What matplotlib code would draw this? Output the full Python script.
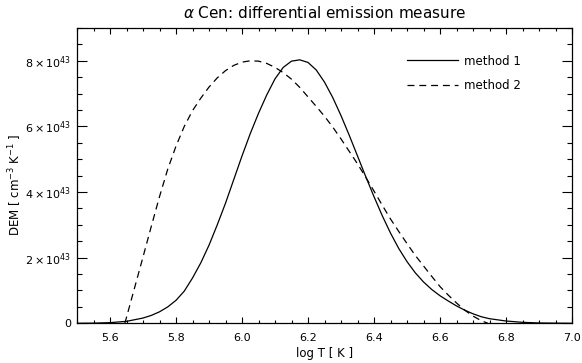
import matplotlib
matplotlib.use('Agg')
import matplotlib.pyplot as plt
from matplotlib.ticker import MultipleLocator, FuncFormatter

# method 1 (solid), DEM in units of 1e43
logt1 = [5.50, 5.55, 5.60, 5.65, 5.70, 5.725, 5.75, 5.775, 5.80, 5.825, 5.85, 5.875,
         5.90, 5.925, 5.95, 5.975, 6.00, 6.025, 6.05, 6.075, 6.10, 6.125, 6.15,
         6.175, 6.20, 6.225, 6.25, 6.275, 6.30, 6.325, 6.35, 6.375, 6.40, 6.425,
         6.45, 6.475, 6.50, 6.525, 6.55, 6.575, 6.60, 6.625, 6.65, 6.675, 6.70,
         6.725, 6.75, 6.80, 6.85, 6.90, 7.00]
dem1 = [0.0, 0.005, 0.02, 0.06, 0.16, 0.24, 0.35, 0.50, 0.70, 0.98, 1.38, 1.84,
        2.38, 3.00, 3.66, 4.38, 5.10, 5.78, 6.40, 6.96, 7.45, 7.80, 7.99,
        8.03, 7.95, 7.72, 7.35, 6.88, 6.33, 5.73, 5.10, 4.47, 3.86, 3.28,
        2.75, 2.28, 1.88, 1.54, 1.26, 1.03, 0.84, 0.68, 0.53, 0.40, 0.29,
        0.20, 0.14, 0.07, 0.03, 0.01, 0.0]

# method 2 (dashed)
logt2 = [5.645, 5.675, 5.70, 5.725, 5.75, 5.775, 5.80, 5.825, 5.85, 5.875, 5.90,
         5.925, 5.95, 5.975, 6.00, 6.025, 6.05, 6.075, 6.10, 6.125, 6.15, 6.175,
         6.20, 6.225, 6.25, 6.275, 6.30, 6.325, 6.35, 6.375, 6.40, 6.425, 6.45,
         6.475, 6.50, 6.525, 6.55, 6.575, 6.60, 6.625, 6.65, 6.675, 6.70, 6.725,
         6.745]
dem2 = [0.0, 1.10, 2.02, 2.95, 3.86, 4.70, 5.40, 6.0, 6.48, 6.86, 7.20,
        7.48, 7.70, 7.86, 7.96, 8.0, 7.99, 7.92, 7.80, 7.64, 7.44, 7.19,
        6.90, 6.61, 6.31, 5.98, 5.62, 5.24, 4.86, 4.45, 4.03, 3.60, 3.18,
        2.80, 2.43, 2.07, 1.75, 1.43, 1.12, 0.86, 0.62, 0.40, 0.22, 0.08,
        0.0]

ytick_vals = [0, 2, 4, 6, 8]

plt.rcParams['font.family'] = ['DejaVu Sans']
plt.rcParams['mathtext.fontset'] = 'dejavusans'
plt.rcParams['lines.scale_dashes'] = False

fig = plt.figure(figsize=(5.82, 3.63), dpi=100)
ax = fig.add_axes([77/582, 1 - 323.3/363, 495/582, 295.3/363])

ax.plot(logt1, dem1, color='black', lw=0.9, label='method 1')
ax.plot(logt2, dem2, color='black', lw=0.9, dashes=(5, 3.5), label='method 2')

ax.set_xlim(5.5, 7.0)
ax.set_ylim(0, 9.0)

ax.xaxis.set_major_locator(MultipleLocator(0.2))
ax.xaxis.set_minor_locator(MultipleLocator(0.05))
ax.set_yticks(ytick_vals)
ax.yaxis.set_minor_locator(MultipleLocator(0.5))
ax.xaxis.set_major_formatter(FuncFormatter(lambda v, p: '%.1f' % v))
ax.yaxis.set_major_formatter(FuncFormatter(
    lambda v, p: '0' if abs(v) < 1e-9 else r'$%d\times10^{43}$' % round(v)))

ax.tick_params(which='both', direction='in', top=True, right=True,
               width=0.8, labelsize=8)
ax.tick_params(axis='x', which='major', length=4.3, pad=7)
ax.tick_params(axis='x', which='minor', length=2.2)
ax.tick_params(axis='y', which='major', length=7.2, pad=4)
ax.tick_params(axis='y', which='minor', length=3.6)
for s in ax.spines.values():
    s.set_linewidth(0.9)

ax.set_title(r'$\alpha$ Cen: differential emission measure', fontsize=11, pad=7)
ax.set_xlabel('log T [ K ]', fontsize=8.5, labelpad=3)
ax.set_ylabel(r'DEM [ cm$^{-3}$ K$^{-1}$ ]', fontsize=8.5)
ax.yaxis.set_label_coords(-0.108, 0.47)

ax.legend(loc='upper left', frameon=False, fontsize=8.5, handlelength=4.3,
          handletextpad=0.55, labelspacing=1.0, borderpad=0, borderaxespad=0,
          bbox_to_anchor=(0.667, 0.91))

fig.savefig('out.png', dpi=100)
